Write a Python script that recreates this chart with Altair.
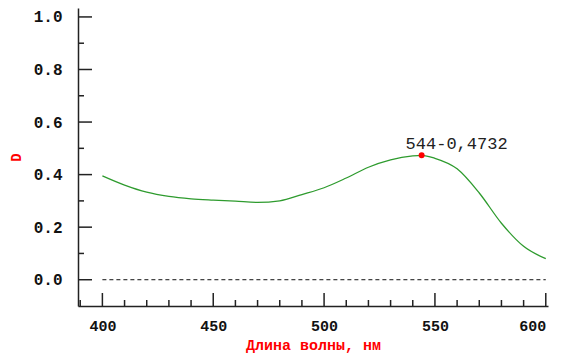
import altair as alt
import pandas as pd

wavelength = [400, 410, 420, 430, 440, 450, 460, 470, 480, 490, 500, 510, 520, 530, 540, 544, 550, 560, 570, 580, 590, 600]
density = [0.395, 0.360, 0.333, 0.317, 0.308, 0.303, 0.299, 0.294, 0.300, 0.324, 0.350, 0.387, 0.428, 0.456, 0.471, 0.4732, 0.462, 0.422, 0.330, 0.215, 0.127, 0.080]

peak_x = [544]
peak_y = [0.4732]
peak_label = ["544-0,4732"]

zero_x = [400, 600]
zero_y = [0, 0]

y_major = [0.0, 0.2, 0.4, 0.6, 0.8, 1.0]
y_minor = [0.1, 0.3, 0.5, 0.7, 0.9]
x_major = [400, 450, 500, 550, 600]
x_minor = [390, 410, 420, 430, 440, 460, 470, 480, 490, 510, 520, 530, 540, 560, 570, 580, 590]

W, H = 470, 298
AXIS = "#222222"
FONT = "Liberation Mono"

xs = alt.Scale(domain=[389, 601], nice=False, zero=False)
ys = alt.Scale(domain=[-0.1, 1.034], nice=False, zero=False)

xaxis = alt.Axis(values=x_major, format="d", ticks=False, grid=False, labelPadding=12,
                 labelFont=FONT, labelFontSize=15, labelFontWeight="bold", labelColor="#111",
                 labelFlush=5, labelBaseline="top",
                 domainColor=AXIS, domainWidth=1.5,
                 title="Длина волны, нм", titleFont=FONT, titleFontSize=15, titleFontWeight="bold",
                 titleColor="#ff0000", titleY=43.5, titleBaseline="alphabetic")
yaxis = alt.Axis(values=y_major, format=".1f", ticks=False, grid=False, labelPadding=16,
                 labelFont=FONT, labelFontSize=16, labelFontWeight="bold", labelColor="#111",
                 domainColor=AXIS, domainWidth=1.5,
                 title="D", titleFont=FONT, titleFontSize=14, titleFontWeight="bold",
                 titleColor="#ff0000", titlePadding=10)

df = pd.DataFrame({"x": wavelength, "y": density})
curve = alt.Chart(df).mark_line(color="#2e9b2e", strokeWidth=1.3, interpolate="monotone").encode(
    x=alt.X("x:Q", scale=xs, axis=xaxis),
    y=alt.Y("y:Q", scale=ys, axis=yaxis),
)

zdf = pd.DataFrame({"x": zero_x, "y": zero_y})
zero = alt.Chart(zdf).mark_line(color="#111", strokeWidth=1, strokeDash=[4, 3]).encode(
    x=alt.X("x:Q", scale=xs), y=alt.Y("y:Q", scale=ys))

pdf = pd.DataFrame({"x": peak_x, "y": peak_y, "t": peak_label})
dot = alt.Chart(pdf).mark_circle(color="#ff0000", size=36, opacity=1).encode(
    x=alt.X("x:Q", scale=xs), y=alt.Y("y:Q", scale=ys))
label = alt.Chart(pdf).mark_text(font=FONT, fontSize=17, color="#222", dx=35, dy=-11,
                                 align="center", baseline="middle").encode(
    x=alt.X("x:Q", scale=xs), y=alt.Y("y:Q", scale=ys), text="t:N")

ymaj = alt.Chart(pd.DataFrame({"v": y_major})).mark_rule(color=AXIS, strokeWidth=1.5).encode(
    y=alt.Y("v:Q", scale=ys), x=alt.value(1), x2=alt.value(14))
ymin = alt.Chart(pd.DataFrame({"v": y_minor})).mark_rule(color=AXIS, strokeWidth=1.5).encode(
    y=alt.Y("v:Q", scale=ys), x=alt.value(1), x2=alt.value(6))
xmaj = alt.Chart(pd.DataFrame({"v": x_major})).mark_rule(color=AXIS, strokeWidth=1.5).encode(
    x=alt.X("v:Q", scale=xs), y=alt.value(H), y2=alt.value(H - 13))
xmin = alt.Chart(pd.DataFrame({"v": x_minor})).mark_rule(color=AXIS, strokeWidth=1.5).encode(
    x=alt.X("v:Q", scale=xs), y=alt.value(H), y2=alt.value(H - 6))

chart = alt.layer(zero, curve, ymaj, ymin, xmaj, xmin, dot, label).properties(
    width=W, height=H,
    background="white",
    autosize=alt.AutoSizeParams(type="none"),
    padding={"left": 70, "top": 0, "right": 6, "bottom": 48},
).configure_view(stroke=None)

chart.save("out.html", embed_options={"renderer": "svg", "actions": False})
